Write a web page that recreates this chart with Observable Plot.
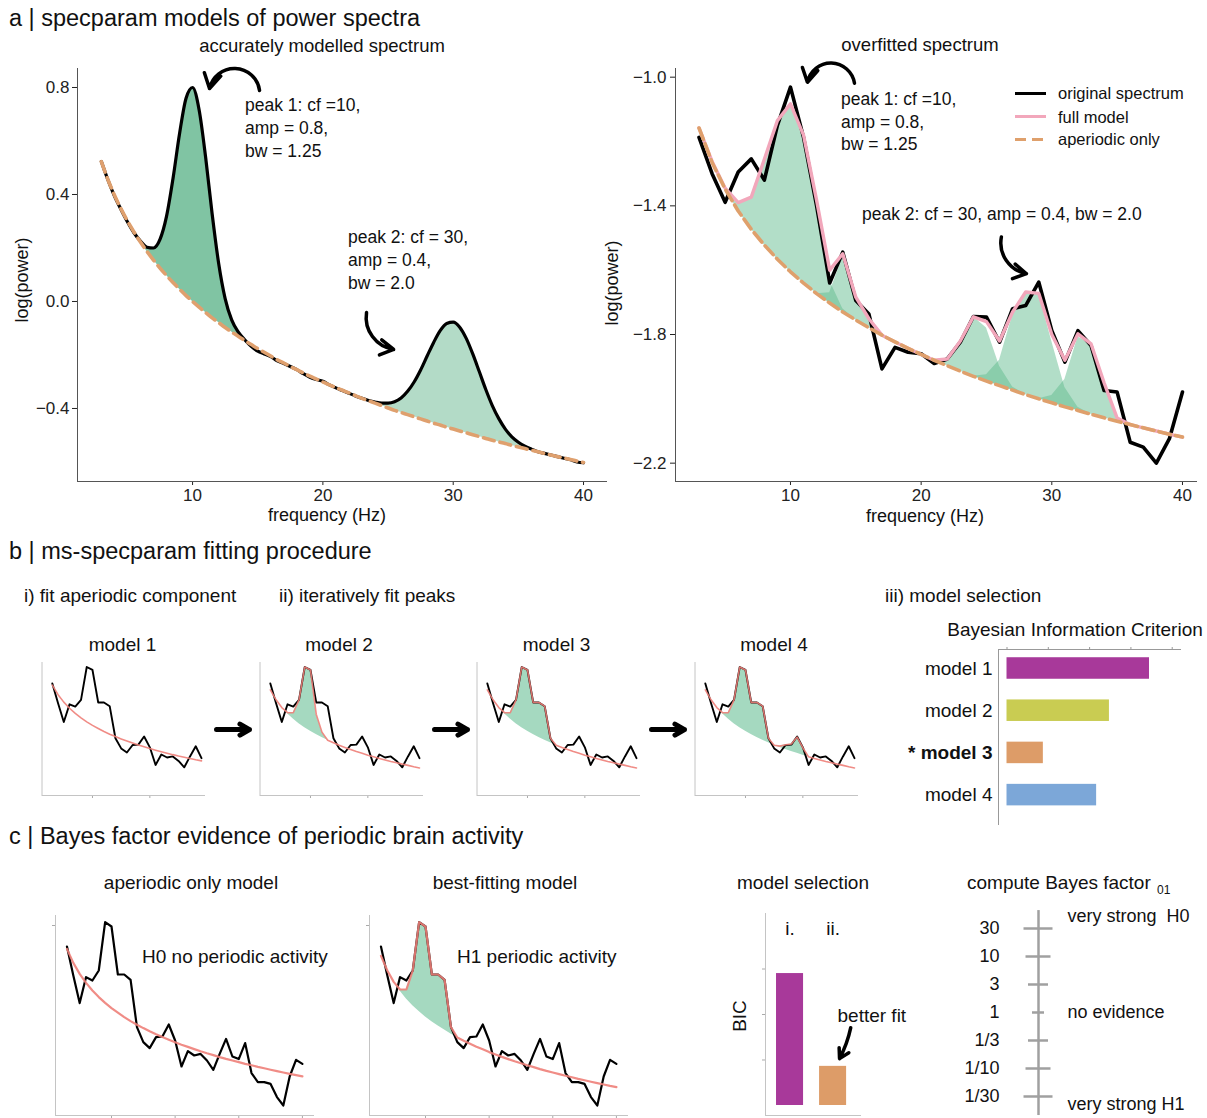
<!DOCTYPE html>
<html><head><meta charset="utf-8">
<script src="https://cdn.jsdelivr.net/npm/d3@7"></script>
<script src="https://cdn.jsdelivr.net/npm/@observablehq/plot@0.6"></script>
<style>
body{margin:0;background:#fff;}
#root{position:relative;width:1207px;height:1118px;overflow:hidden;background:#fff;font-family:"Liberation Sans",Arial,Helvetica,sans-serif;color:#111;}
.t{position:absolute;white-space:pre;line-height:1;}
</style></head><body><div id="root"></div>
<script>
// ---------------- DATA ----------------
// panel a (left): accurately modelled spectrum
const freqA = [3,3.5,4,4.5,5,5.5,6,6.5,7,7.5,8,8.5,9,9.5,10,10.5,11,11.5,12,12.5,13,13.5,14,14.5,15,15.5,16,16.5,17,17.5,18,18.5,19,19.5,20,20.5,21,21.5,22,22.5,23,23.5,24,24.5,25,25.5,26,26.5,27,27.5,28,28.5,29,29.5,30,30.5,31,31.5,32,32.5,33,33.5,34,34.5,35,35.5,36,36.5,37,37.5,38,38.5,39,39.5,40];
const specA = [0.523,0.455,0.395,0.345,0.298,0.257,0.226,0.203,0.200,0.232,0.318,0.460,0.627,0.760,0.800,0.717,0.540,0.328,0.143,0.011,-0.069,-0.114,-0.143,-0.168,-0.186,-0.196,-0.206,-0.222,-0.232,-0.243,-0.255,-0.270,-0.283,-0.292,-0.298,-0.312,-0.323,-0.333,-0.343,-0.353,-0.362,-0.370,-0.376,-0.380,-0.380,-0.375,-0.361,-0.336,-0.301,-0.256,-0.204,-0.153,-0.109,-0.082,-0.077,-0.096,-0.138,-0.196,-0.262,-0.329,-0.389,-0.438,-0.477,-0.506,-0.526,-0.541,-0.552,-0.562,-0.568,-0.574,-0.580,-0.586,-0.592,-0.600,-0.603];
const apA = [0.523,0.456,0.398,0.347,0.301,0.260,0.222,0.187,0.155,0.125,0.097,0.071,0.046,0.022,0.000,-0.021,-0.041,-0.061,-0.079,-0.097,-0.114,-0.130,-0.146,-0.161,-0.176,-0.190,-0.204,-0.218,-0.230,-0.243,-0.255,-0.267,-0.279,-0.290,-0.301,-0.312,-0.322,-0.332,-0.342,-0.352,-0.362,-0.371,-0.380,-0.389,-0.398,-0.407,-0.415,-0.423,-0.431,-0.439,-0.447,-0.455,-0.462,-0.470,-0.477,-0.484,-0.491,-0.498,-0.505,-0.512,-0.519,-0.525,-0.531,-0.538,-0.544,-0.550,-0.556,-0.562,-0.568,-0.574,-0.580,-0.585,-0.591,-0.597,-0.602];
const peakRangesA = [[6,14],[24,36]];

// panel a (right): overfitted spectrum
const freqR = [3,4,5,6,7,8,9,10,11,12,13,14,15,16,17,18,19,20,21,22,23,24,25,26,27,28,29,30,31,32,33,34,35,36,37,38,39,40];
const specR = [-1.187,-1.300,-1.389,-1.295,-1.254,-1.320,-1.150,-1.031,-1.187,-1.400,-1.640,-1.544,-1.694,-1.736,-1.907,-1.840,-1.855,-1.860,-1.890,-1.876,-1.824,-1.744,-1.746,-1.824,-1.720,-1.710,-1.637,-1.788,-1.886,-1.788,-1.834,-1.974,-1.979,-2.135,-2.150,-2.200,-2.124,-1.979];
const modelR = [-1.158,-1.262,-1.345,-1.390,-1.373,-1.255,-1.135,-1.083,-1.180,-1.383,-1.600,-1.549,-1.684,-1.751,-1.802,-1.823,-1.843,-1.862,-1.880,-1.876,-1.820,-1.745,-1.760,-1.820,-1.730,-1.668,-1.672,-1.800,-1.880,-1.798,-1.829,-1.950,-2.060,-2.080,-2.090,-2.100,-2.110,-2.119];
const apR = [-1.158,-1.265,-1.348,-1.416,-1.473,-1.522,-1.566,-1.605,-1.640,-1.673,-1.702,-1.730,-1.755,-1.779,-1.802,-1.823,-1.843,-1.862,-1.880,-1.897,-1.914,-1.930,-1.945,-1.959,-1.973,-1.987,-2.000,-2.012,-2.025,-2.036,-2.048,-2.059,-2.070,-2.080,-2.090,-2.100,-2.110,-2.119];
const pkR1F = [5,6,7,8,9,10,11,12,13,14,15],  pkR1V = [0,0.026,0.10,0.267,0.431,0.522,0.46,0.285,0.07,0.01,0];
const pkR2F = [12,13,14,15,16,17],             pkR2V = [0,0.032,0.171,0.071,0.028,0];
const pkR3F = [21,22,23,24,25,26,27,28],       pkR3V = [0,0.021,0.094,0.185,0.165,0.06,0.01,0];
const pkR4F = [24,25,26,27,28,29,30,31,32,33], pkR4V = [0,0.02,0.079,0.233,0.319,0.328,0.19,0.06,0.01,0];
const pkR5F = [29,30,31,32,33,34,35,36],       pkR5V = [0,0.022,0.085,0.228,0.219,0.109,0.01,0];

// panels b & c: example spectrum (arbitrary log-power units)
const freqB = [3,4,5,6,7,8,9,10,11,12,13,14,15,16,17,18,19,20,21,22,23,24,25,26,27,28,29,30,31,32,33,34,35,36,37,38,39,40];
const specB = [0.845,0.700,0.562,0.692,0.675,0.725,0.967,0.945,0.705,0.705,0.678,0.442,0.367,0.337,0.392,0.395,0.455,0.375,0.245,0.322,0.300,0.308,0.275,0.228,0.308,0.383,0.295,0.282,0.362,0.212,0.167,0.167,0.158,0.092,0.050,0.195,0.278,0.258];
const apOnlyB = [0.833,0.763,0.708,0.663,0.625,0.592,0.563,0.537,0.514,0.492,0.472,0.454,0.437,0.421,0.406,0.392,0.379,0.366,0.354,0.343,0.332,0.321,0.311,0.302,0.292,0.283,0.275,0.267,0.258,0.251,0.243,0.236,0.229,0.222,0.215,0.208,0.202,0.196];
const apFitB = [0.798,0.725,0.668,0.622,0.583,0.549,0.520,0.493,0.469,0.447,0.427,0.408,0.390,0.374,0.359,0.344,0.331,0.317,0.305,0.293,0.282,0.271,0.261,0.251,0.242,0.232,0.223,0.215,0.207,0.199,0.191,0.183,0.176,0.169,0.162,0.155,0.148,0.142];
const pkBestF = [5,6,7,8,9,10,11,12,13,14,15], pkBestV = [0,0.008,0.047,0.176,0.447,0.452,0.236,0.258,0.251,0.034,0];
const pkM2F = [5,6,7,8,9,10,11,12,13],        pkM2V = [0,0.008,0.047,0.176,0.447,0.452,0.15,0.04,0];
const pkM4F = [15,16,17,18,19,20,21],         pkM4V = [0,0.01,0.035,0.055,0.12,0.055,0];
const modelNames = ["model 1","model 2","model 3","model 4"];
const bicValues = [3.45, 2.48, 0.88, 2.17];
const bicColors = ["#a8399a","#c9cc52","#dd9c68","#7ca7d8"];
const bestModel = "model 3";
const selLabels = ["i.","ii."];
const selValues = [2.9, 0.86];
const selColors = ["#a8399a","#dd9c68"];
const bfLabels = ["30","10","3","1","1/3","1/10","1/30"];
const bfLevels = [3,2,1,0,-1,-2,-3];

// ---------------- HELPERS ----------------
const root = document.getElementById("root");
const FONT = '"Liberation Sans", Arial, Helvetica, sans-serif';
function label(text, x, y, o = {}) {
  const d = document.createElement("div");
  d.className = "t";
  d.textContent = text;
  d.style.fontSize = (o.size || 19) + "px";
  d.style.fontWeight = o.weight || "normal";
  d.style.left = x + "px"; d.style.top = y + "px";
  const a = o.anchor || "start";
  const tx = a === "middle" ? "-50%" : a === "end" ? "-100%" : "0";
  d.style.transform = `translate(${tx}, -50%)` + (o.rotate ? ` rotate(${o.rotate}deg)` : "");
  root.appendChild(d);
  return d;
}
function place(node, x, y) {
  node.style.position = "absolute"; node.style.left = x + "px"; node.style.top = y + "px";
  root.appendChild(node);
}
const baseStyle = (size, color) => ({fontFamily: FONT, fontSize: size + "px", color, background: "none", overflow: "visible"});
function sparse(F, V) { const m = new Map(); F.forEach((f, i) => m.set(f, V[i])); return m; }

// ---------------- PANEL A LEFT ----------------
const rowsA = freqA.map((f, i) => ({f, spec: specA[i], ap: apA[i]}));
const xA = [1.17, 41.84], yA = [-0.673, 0.871];
const aLeft = Plot.plot({
  width: 620, height: 480, marginLeft: 77, marginRight: 13, marginTop: 28, marginBottom: 39,
  style: baseStyle(17, "#222"),
  x: {domain: xA, ticks: [10,20,30,40], tickSize: 4, tickPadding: 3, label: null},
  y: {domain: yA, ticks: [-0.4,0,0.4,0.8], tickFormat: d3.format(".1f"), tickSize: 5, tickPadding: 3, label: null},
  marks: [
    Plot.areaY(rowsA.filter(d => d.f >= peakRangesA[0][0] && d.f <= peakRangesA[0][1]), {x: "f", y1: "ap", y2: "spec", fill: "#80c4a3", curve: "monotone-x"}),
    Plot.areaY(rowsA.filter(d => d.f >= peakRangesA[1][0] && d.f <= peakRangesA[1][1]), {x: "f", y1: "ap", y2: "spec", fill: "#b3dbc7", curve: "monotone-x"}),
    Plot.ruleX([xA[0]], {stroke: "#555"}),
    Plot.ruleY([yA[0]], {stroke: "#555"}),
    Plot.line(rowsA, {x: "f", y: "spec", stroke: "#000", strokeWidth: 3.2, curve: "monotone-x"}),
    Plot.line(rowsA, {x: "f", y: "ap", stroke: "#dfa06e", strokeWidth: 3.6, strokeDasharray: "11,6", curve: "monotone-x"}),
    Plot.arrow([{x1: 15.14, y1: 0.789, x2: 11.3, y2: 0.796}], {x1: "x1", y1: "y1", x2: "x2", y2: "y2", bend: -80, stroke: "#000", strokeWidth: 3.5, headLength: 13}),
    Plot.arrow([{x1: 23.35, y1: -0.041, x2: 25.43, y2: -0.179}], {x1: "x1", y1: "y1", x2: "x2", y2: "y2", bend: -45, stroke: "#000", strokeWidth: 3.5, headLength: 13})
  ]
});
place(aLeft, 0, 40);

// ---------------- PANEL A RIGHT ----------------
const apRMap = new Map(freqR.map((f, i) => [f, apR[i]]));
const rowsR = freqR.map((f, i) => ({f, spec: specR[i], model: modelR[i], ap: apR[i]}));
const peaksR = [[pkR1F, pkR1V], [pkR2F, pkR2V], [pkR3F, pkR3V], [pkR4F, pkR4V], [pkR5F, pkR5V]]
  .map(([F, V]) => F.map((f, i) => ({f, lo: apRMap.get(f), hi: apRMap.get(f) + V[i]})));
const xR = [1.2, 41.15], yR = [-2.257, -0.973];
const aRight = Plot.plot({
  width: 607, height: 480, marginLeft: 75, marginRight: 10, marginTop: 28, marginBottom: 39,
  style: baseStyle(17, "#222"),
  x: {domain: xR, ticks: [10,20,30,40], tickSize: 4, tickPadding: 3, label: null},
  y: {domain: yR, ticks: [-2.2,-1.8,-1.4,-1.0], tickFormat: d3.format(".1f"), tickSize: 5, tickPadding: 4, label: null},
  marks: [
    ...peaksR.map(p => Plot.areaY(p, {x: "f", y1: "lo", y2: "hi", fill: "#5fb98c", fillOpacity: 0.48})),
    Plot.ruleX([xR[0]], {stroke: "#555"}),
    Plot.ruleY([yR[0]], {stroke: "#555"}),
    Plot.line(rowsR, {x: "f", y: "spec", stroke: "#000", strokeWidth: 3.6}),
    Plot.line(rowsR, {x: "f", y: "model", stroke: "#f2a7bb", strokeWidth: 3.4}),
    Plot.line(rowsR, {x: "f", y: "ap", stroke: "#dfa06c", strokeWidth: 3.6, strokeDasharray: "12,5"}),
    Plot.arrow([{x1: 14.9, y1: -1.019, x2: 11.3, y2: -1.016}], {x1: "x1", y1: "y1", x2: "x2", y2: "y2", bend: -80, stroke: "#000", strokeWidth: 3.5, headLength: 13}),
    Plot.arrow([{x1: 26.14, y1: -1.497, x2: 28.06, y2: -1.611}], {x1: "x1", y1: "y1", x2: "x2", y2: "y2", bend: -45, stroke: "#000", strokeWidth: 3.5, headLength: 13})
  ]
});
place(aRight, 600, 40);

// legend (right)
function legendLine(x, y, w, css) {
  const d = document.createElement("div");
  d.style.position = "absolute"; d.style.left = x + "px"; d.style.top = (y - 1.5) + "px";
  d.style.width = w + "px"; d.style.height = "3px"; d.style.background = css;
  root.appendChild(d);
}
legendLine(1015, 93.3, 31, "#000");
legendLine(1015, 116.7, 31, "#f2a7bb");
legendLine(1015, 139.3, 31, "repeating-linear-gradient(90deg, #dfa06c 0 11px, transparent 11px 17px)");
label("original spectrum", 1058, 93.3, {size: 16.5});
label("full model", 1058, 116.7, {size: 16.5});
label("aperiodic only", 1058, 139.3, {size: 16.5});

// texts panel a
label("a | specparam models of power spectra", 9, 19, {size: 23.5});
label("accurately modelled spectrum", 322, 46, {size: 18.5, anchor: "middle"});
label("overfitted spectrum", 920, 45, {size: 18.5, anchor: "middle"});
label("peak 1: cf =10,", 245, 106, {size: 17.5});
label("amp = 0.8,", 245, 129, {size: 17.5});
label("bw = 1.25", 245, 152, {size: 17.5});
label("peak 2: cf = 30,", 348, 238, {size: 17.5});
label("amp = 0.4,", 348, 261, {size: 17.5});
label("bw = 2.0", 348, 284, {size: 17.5});
label("peak 1: cf =10,", 841, 100, {size: 17.5});
label("amp = 0.8,", 841, 122.5, {size: 17.5});
label("bw = 1.25", 841, 145, {size: 17.5});
label("peak 2: cf = 30, amp = 0.4, bw = 2.0", 862, 215, {size: 17.5});
label("frequency (Hz)", 327, 515, {size: 18, anchor: "middle"});
label("frequency (Hz)", 925, 516, {size: 18, anchor: "middle"});
label("log(power)", 22, 280, {size: 18, anchor: "middle", rotate: -90});
label("log(power)", 612, 283, {size: 18, anchor: "middle", rotate: -90});

// ---------------- PANEL B ----------------
function modelRows(apArr, peakList) {
  const maps = peakList.map(([F, V]) => sparse(F, V));
  return freqB.map((f, i) => {
    const add = d3.sum(maps, m => m.get(f) || 0);
    return {f, spec: specB[i], ap: apArr[i], model: apArr[i] + add};
  });
}
const modelDefs = [
  {ap: apOnlyB, peaks: []},
  {ap: apFitB, peaks: [[pkM2F, pkM2V]]},
  {ap: apFitB, peaks: [[pkBestF, pkBestV]]},
  {ap: apFitB, peaks: [[pkBestF, pkBestV], [pkM4F, pkM4V]]}
];
const xM = [1.2, 29.7], yM = [0.02, 1.0];
modelDefs.forEach((def, k) => {
  const rows = modelRows(def.ap, def.peaks).filter(d => d.f <= 29);
  const marks = [
    Plot.ruleX([xM[0]], {stroke: "#c4c4c4"}),
    Plot.ruleY([yM[0]], {stroke: "#c4c4c4"})
  ];
  if (def.peaks.length) marks.push(Plot.areaY(rows, {x: "f", y1: "ap", y2: "model", fill: "#a5d9c0"}));
  marks.push(Plot.line(rows, {x: "f", y: "spec", stroke: "#000", strokeWidth: 1.9}));
  marks.push(Plot.line(rows, {x: "f", y: "model", stroke: "#ee7f79", strokeWidth: 1.6, strokeOpacity: 0.9}));
  if (k < 3) marks.push(Plot.arrow([{x1: 31.62, y1: 0.506, x2: 37.37, y2: 0.506}], {x1: "x1", y1: "y1", x2: "x2", y2: "y2", stroke: "#000", strokeWidth: 5, headLength: 11}));
  const p = Plot.plot({
    width: 230, height: 160, marginLeft: 11.5, marginRight: 55, marginTop: 12, marginBottom: 15,
    style: baseStyle(12, "#aaa"),
    x: {domain: xM, ticks: [10, 20], tickFormat: () => "", tickSize: 3, label: null},
    y: {domain: yM, axis: null},
    marks
  });
  place(p, 30 + 217.5 * k, 650);
  label(modelNames[k], [122.5, 339, 556.5, 774][k], 644, {size: 19, anchor: "middle"});
});

// BIC bar chart
const bicRows = modelNames.map((m, i) => ({model: m, idx: i + 1, bic: bicValues[i], color: bicColors[i],
  text: m === bestModel ? "* " + m : m}));
const xB = [-0.206, 4.225], yB = [4.72, 0.55];
const bic = Plot.plot({
  width: 307, height: 190, marginLeft: 98, marginRight: 26, marginTop: 9, marginBottom: 5,
  style: baseStyle(12, "#999"),
  x: {domain: xB, axis: "top", ticks: [0,1,2,3,4], tickFormat: () => "", tickSize: 3, label: null},
  y: {domain: yB, axis: null},
  marks: [
    Plot.rect(bicRows, {x1: 0, x2: "bic", y1: d => d.idx - 0.255, y2: d => d.idx + 0.255, fill: "color"}),
    Plot.ruleX([xB[0]], {stroke: "#999"}),
    Plot.ruleY([yB[1]], {stroke: "#999"}),
    Plot.text(bicRows.filter(d => d.model !== bestModel), {x: xB[0], y: "idx", text: "text", dx: -6, textAnchor: "end", fontSize: 19, fill: "#111"}),
    Plot.text(bicRows.filter(d => d.model === bestModel), {x: xB[0], y: "idx", text: "text", dx: -6, textAnchor: "end", fontSize: 19, fontWeight: "bold", fill: "#111"})
  ]
});
place(bic, 900, 640);

label("b | ms-specparam fitting procedure", 9, 552, {size: 23.5});
label("i) fit aperiodic component", 24, 595, {size: 19});
label("ii) iteratively fit peaks", 279, 595, {size: 19});
label("iii) model selection", 885, 595, {size: 19});
label("Bayesian Information Criterion", 1075, 629, {size: 19, anchor: "middle"});

// ---------------- PANEL C ----------------
const xC = [1.2, 41.9], yC = [0, 1];
function cPlot(rows, withPeak) {
  const marks = [
    Plot.ruleX([xC[0]], {stroke: "#c4c4c4"}),
    Plot.ruleY([yC[0]], {stroke: "#c4c4c4"})
  ];
  if (withPeak) marks.push(Plot.areaY(rows, {x: "f", y1: "ap", y2: "model", fill: "#a5d9c0"}));
  marks.push(Plot.line(rows, {x: "f", y: "spec", stroke: "#000", strokeWidth: 2.2}));
  marks.push(Plot.line(rows, {x: "f", y: "model", stroke: "#ee7f79", strokeWidth: 2.2, strokeOpacity: 0.9}));
  return Plot.plot({
    width: 290, height: 213, marginLeft: 15, marginRight: 16, marginTop: 10, marginBottom: 3,
    style: baseStyle(12, "#aaa"),
    x: {domain: xC, ticks: [10,20,30,40], tickFormat: () => "", tickSize: 3, label: null},
    y: {domain: yC, ticks: [0.95], tickFormat: () => "", tickSize: 3, label: null},
    marks
  });
}
place(cPlot(modelRows(apOnlyB, []), false), 40, 905);
place(cPlot(modelRows(apFitB, [[pkBestF, pkBestV]]), true), 354, 905);

// model selection bars
const selRows = selLabels.map((l, i) => ({label: l, idx: i + 1, bic: selValues[i], color: selColors[i]}));
const xS = [0.43, 2.66], yS = [-0.22, 4.22];
const sel = Plot.plot({
  width: 200, height: 218, marginLeft: 45, marginRight: 59, marginTop: 13, marginBottom: 3,
  style: baseStyle(19, "#aaa"),
  x: {domain: xS, axis: null},
  y: {domain: yS, ticks: [1,2,3], tickFormat: () => "", tickSize: 3, label: null},
  marks: [
    Plot.rect(selRows, {x1: d => d.idx - 0.314, x2: d => d.idx + 0.314, y1: 0, y2: "bic", fill: "color"}),
    Plot.ruleX([xS[0]], {stroke: "#c4c4c4"}),
    Plot.ruleY([yS[0]], {stroke: "#c4c4c4"}),
    Plot.text(selRows, {x: "idx", y: 3.89, text: "label", fontSize: 19, fill: "#111"}),
    Plot.text(["better fit"], {x: 2.9, y: 1.98, text: d => d, fontSize: 19, fill: "#111"}),
    Plot.arrow([{x1: 2.41, y1: 1.71, x2: 2.15, y2: 1.03}], {x1: "x1", y1: "y1", x2: "x2", y2: "y2", bend: 8, stroke: "#000", strokeWidth: 3.5, headLength: 10})
  ]
});
place(sel, 720, 900);

// Bayes factor scale
const tickHalf = [6, 10, 12.5, 14.5];
const bfRows = bfLabels.map((l, i) => ({label: l, level: bfLevels[i]}));
const bf = Plot.plot({
  width: 267, height: 218, marginLeft: 0, marginRight: 0, marginTop: 0, marginBottom: 0,
  style: baseStyle(18, "#111"),
  x: {domain: [-98, 169], axis: null},
  y: {domain: [-3.786, 4.0], axis: null},
  marks: [
    Plot.ruleX([0], {y1: -3.68, y2: 3.64, stroke: "#a0a0a0", strokeWidth: 2.5}),
    Plot.ruleY(bfRows, {y: "level", x1: d => -tickHalf[Math.abs(d.level)], x2: d => tickHalf[Math.abs(d.level)], stroke: "#a0a0a0", strokeWidth: 2.5}),
    Plot.text(bfRows, {x: 0, y: "level", text: "label", dx: -39, textAnchor: "end", fontSize: 18, fill: "#111"}),
    Plot.text([{t: "very strong\u00a0 H0", l: 3.43}, {t: "no evidence", l: 0}, {t: "very strong H1", l: -3.29}],
      {x: 0, y: "l", text: "t", dx: 29, textAnchor: "start", fontSize: 18, fill: "#111"})
  ]
});
place(bf, 940, 900);

label("c | Bayes factor evidence of periodic brain activity", 9, 837, {size: 23.5});
label("aperiodic only model", 191, 882, {size: 19, anchor: "middle"});
label("best-fitting model", 505, 882, {size: 19, anchor: "middle"});
label("H0 no periodic activity", 142, 956, {size: 19});
label("H1 periodic activity", 457, 956, {size: 19});
label("model selection", 803, 882, {size: 19, anchor: "middle"});
label("compute Bayes factor", 967, 882, {size: 19});
label("01", 1157, 890, {size: 12});
label("BIC", 739, 1016, {size: 19, anchor: "middle", rotate: -90});
</script></body></html>
